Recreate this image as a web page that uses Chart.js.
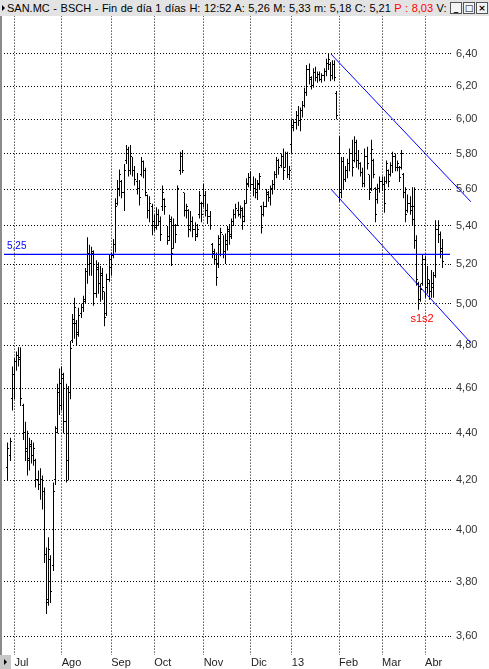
<!DOCTYPE html>
<html>
<head>
<meta charset="utf-8">
<script src="https://cdn.jsdelivr.net/npm/chart.js@4.4.1/dist/chart.umd.min.js"></script>
<style>
  body { margin: 0; background: #fff; }
  #wrap { position: relative; width: 489px; height: 669px; overflow: hidden; background: #fff; }
  #titulo {
    position: absolute; left: 0; top: 0; width: 489px; height: 16px;
    background: #e3e3e3; font: 11px "Liberation Sans", Arial, sans-serif;
    line-height: 16px; white-space: nowrap; overflow: hidden; z-index: 2;
  }
  #titulo .txt { position: absolute; left: 7px; top: 0; color: #000; word-spacing: 0.5px; }
  #titulo .rojo { color: #ff0000; }
  #titulo .flecha { position: absolute; left: 2px; top: 5px; width: 0; height: 0;
    border-top: 3px solid transparent; border-bottom: 3px solid transparent; border-left: 3px solid #000; }
  #botones { position: absolute; right: 1px; top: 2px; height: 13px; background: #e3e3e3; padding-left: 2px; }
  #botones span { display: inline-block; width: 10px; height: 10px; border: 1px solid #555; margin-left: 1px;
    background: #f4f4f4; font: bold 9px "DejaVu Sans", sans-serif; line-height: 10px; text-align: center; vertical-align: top; }
  #marco { position: absolute; left: 0; top: 16px; width: 2px; height: 653px; background: #8a8a8a; z-index: 2; }
  #esquina { position: absolute; left: 0; top: 655px; width: 11px; height: 14px; background: #c8c8c8; z-index: 2; }
  #esquina i { position: absolute; left: 4px; top: 4px; width: 0; height: 0;
    border-top: 3px solid transparent; border-bottom: 3px solid transparent; border-left: 3px solid #000; }
  canvas { position: absolute; left: 0; top: 0; }
</style>
</head>
<body>
<div id="wrap">
  <div id="titulo">
    <div class="flecha"></div>
    <span class="txt">SAN.MC - BSCH - Fin de día 1 días H: 12:52 A: 5,26 M: 5,33 m: 5,18 C: 5,21 <span class="rojo">P : 8,03</span> V: 2</span>
    <div id="botones"><span>_</span><span>□</span><span>×</span></div>
  </div>
  <div id="marco"></div>
  <div id="esquina"><i></i></div>
  <canvas id="grafico" width="489" height="669"></canvas>
</div>
<script>
// Cotizaciones diarias SAN.MC (fin jun 2012 - abr 2013)
const apertura = [
  4.25, 4.30, 4.55, 4.66, 4.72, 4.75, 4.74, 4.52, 4.40, 4.33, 4.29, 4.34, 4.30, 4.28, 4.20, 4.18, 4.20, 4.15, 3.90, 3.73, 3.88, 3.86, 4.20, 4.42, 4.58,
  4.52, 4.64, 4.45, 4.28, 4.58, 4.82, 4.90, 4.90, 4.86, 4.95, 4.98, 5.02, 5.16, 5.25, 5.20, 5.25, 5.05, 5.17, 5.10, 5.14, 5.06, 4.95, 5.12,
  5.18, 5.24, 5.30, 5.52, 5.60, 5.64, 5.58, 5.76, 5.82, 5.70, 5.78, 5.70, 5.64, 5.60, 5.68, 5.75, 5.70, 5.56, 5.48, 5.50,
  5.42, 5.40, 5.46, 5.42, 5.50, 5.54, 5.40, 5.34, 5.42, 5.28, 5.40, 5.40, 5.70, 5.78, 5.58, 5.48, 5.48, 5.40, 5.42, 5.38, 5.35, 5.46, 5.52,
  5.52, 5.56, 5.48, 5.45, 5.30, 5.26, 5.22, 5.20, 5.30, 5.35, 5.26, 5.30, 5.37, 5.35, 5.42, 5.46, 5.48, 5.46, 5.48, 5.45, 5.52, 5.62,
  5.66, 5.62, 5.60, 5.58, 5.62, 5.50, 5.46, 5.50, 5.57, 5.55, 5.60, 5.62, 5.68, 5.76, 5.73, 5.78, 5.72, 5.80, 5.68,
  5.85, 5.96, 5.98, 6.02, 5.99, 6.05, 6.08, 6.16, 6.30, 6.24, 6.20, 6.28, 6.25, 6.27, 6.24, 6.26, 6.29, 6.34, 6.33, 6.26, 6.33, 6.15,
  5.80, 5.58, 5.75, 5.65, 5.70, 5.74, 5.80, 5.76, 5.86, 5.76, 5.74, 5.69, 5.63, 5.78, 5.68, 5.60, 5.76, 5.60, 5.54, 5.60,
  5.64, 5.62, 5.64, 5.70, 5.68, 5.73, 5.78, 5.72, 5.72, 5.72, 5.68, 5.58, 5.48, 5.52, 5.50, 5.50, 5.32, 5.10, 5.02, 5.10,
  5.22, 5.08, 5.10, 5.06, 5.08, 5.14, 5.38, 5.35, 5.26
];
const maximo = [
  4.36, 4.38, 4.70, 4.74, 4.77, 4.79, 4.79, 4.53, 4.45, 4.41, 4.38, 4.37, 4.36, 4.29, 4.24, 4.25, 4.22, 4.17, 3.93, 3.97, 3.90, 4.19, 4.43, 4.62, 4.69,
  4.70, 4.67, 4.62, 4.61, 4.82, 4.95, 5.03, 4.92, 4.98, 5.00, 5.04, 5.18, 5.34, 5.30, 5.29, 5.27, 5.22, 5.21, 5.19, 5.18, 5.06, 5.15, 5.25,
  5.26, 5.33, 5.55, 5.65, 5.71, 5.65, 5.74, 5.85, 5.84, 5.85, 5.78, 5.73, 5.69, 5.65, 5.78, 5.76, 5.72, 5.57, 5.56, 5.52,
  5.46, 5.50, 5.49, 5.45, 5.62, 5.55, 5.40, 5.46, 5.45, 5.44, 5.41, 5.62, 5.81, 5.82, 5.58, 5.52, 5.49, 5.48, 5.45, 5.42, 5.41, 5.59, 5.53,
  5.63, 5.59, 5.52, 5.48, 5.31, 5.28, 5.26, 5.35, 5.39, 5.35, 5.36, 5.40, 5.41, 5.44, 5.49, 5.52, 5.53, 5.51, 5.50, 5.54, 5.66, 5.69,
  5.70, 5.67, 5.66, 5.65, 5.69, 5.51, 5.53, 5.60, 5.59, 5.62, 5.65, 5.70, 5.78, 5.77, 5.80, 5.83, 5.81, 5.81, 5.73,
  6.00, 6.00, 6.05, 6.08, 6.07, 6.11, 6.19, 6.33, 6.34, 6.26, 6.31, 6.32, 6.29, 6.29, 6.28, 6.31, 6.37, 6.40, 6.35, 6.36, 6.36, 6.17,
  5.90, 5.78, 5.78, 5.73, 5.77, 5.83, 5.88, 5.90, 5.88, 5.82, 5.75, 5.72, 5.83, 5.84, 5.68, 5.88, 5.77, 5.61, 5.63, 5.67,
  5.67, 5.67, 5.76, 5.71, 5.75, 5.81, 5.80, 5.76, 5.73, 5.82, 5.69, 5.61, 5.57, 5.56, 5.61, 5.61, 5.35, 5.11, 5.10, 5.25,
  5.24, 5.19, 5.12, 5.17, 5.16, 5.43, 5.43, 5.37, 5.33
];
const minimo = [
  4.20, 4.28, 4.50, 4.55, 4.68, 4.70, 4.52, 4.37, 4.28, 4.22, 4.24, 4.27, 4.26, 4.17, 4.16, 4.12, 4.08, 3.87, 3.68, 3.71, 3.72, 3.84, 4.18, 4.40, 4.48,
  4.50, 4.40, 4.19, 4.20, 4.55, 4.81, 4.83, 4.80, 4.84, 4.93, 4.96, 5.00, 5.10, 5.14, 5.14, 4.99, 5.03, 5.05, 5.01, 5.02, 4.89, 4.94, 5.11,
  5.14, 5.23, 5.26, 5.51, 5.56, 5.55, 5.48, 5.74, 5.67, 5.68, 5.67, 5.62, 5.57, 5.51, 5.67, 5.66, 5.56, 5.44, 5.42, 5.35,
  5.37, 5.38, 5.40, 5.32, 5.48, 5.46, 5.30, 5.32, 5.19, 5.28, 5.31, 5.40, 5.68, 5.69, 5.45, 5.44, 5.34, 5.37, 5.34, 5.32, 5.34, 5.44, 5.42,
  5.50, 5.45, 5.41, 5.38, 5.23, 5.20, 5.09, 5.18, 5.24, 5.23, 5.20, 5.27, 5.30, 5.33, 5.40, 5.44, 5.45, 5.44, 5.38, 5.42, 5.52, 5.61,
  5.59, 5.56, 5.55, 5.54, 5.60, 5.36, 5.45, 5.50, 5.53, 5.51, 5.57, 5.60, 5.66, 5.68, 5.72, 5.65, 5.72, 5.66, 5.65,
  5.80, 5.93, 5.94, 5.96, 5.93, 6.01, 6.07, 6.14, 6.21, 6.18, 6.19, 6.23, 6.22, 6.23, 6.22, 6.23, 6.26, 6.30, 6.23, 6.24, 6.23, 6.00,
  5.53, 5.55, 5.60, 5.64, 5.66, 5.70, 5.67, 5.75, 5.72, 5.71, 5.67, 5.61, 5.61, 5.71, 5.54, 5.59, 5.66, 5.42, 5.52, 5.58,
  5.59, 5.47, 5.63, 5.61, 5.67, 5.69, 5.70, 5.70, 5.64, 5.71, 5.55, 5.42, 5.47, 5.46, 5.40, 5.28, 5.09, 4.97, 5.01, 5.09,
  5.03, 5.05, 5.02, 5.03, 5.03, 5.13, 5.31, 5.23, 5.18
];
const cierre = [
  4.33, 4.36, 4.66, 4.72, 4.75, 4.73, 4.55, 4.40, 4.32, 4.28, 4.35, 4.30, 4.33, 4.20, 4.18, 4.20, 4.15, 3.90, 3.72, 3.92, 3.76, 4.15, 4.40, 4.58, 4.62,
  4.66, 4.45, 4.28, 4.58, 4.78, 4.92, 4.98, 4.85, 4.94, 4.98, 5.01, 5.16, 5.25, 5.20, 5.26, 5.05, 5.18, 5.10, 5.15, 5.08, 4.93, 5.12, 5.22,
  5.24, 5.30, 5.50, 5.60, 5.68, 5.58, 5.70, 5.82, 5.70, 5.80, 5.70, 5.65, 5.60, 5.55, 5.75, 5.70, 5.58, 5.48, 5.52, 5.40,
  5.39, 5.46, 5.42, 5.35, 5.58, 5.50, 5.32, 5.43, 5.25, 5.40, 5.35, 5.60, 5.78, 5.70, 5.48, 5.50, 5.38, 5.42, 5.38, 5.34, 5.38, 5.56, 5.46,
  5.56, 5.48, 5.45, 5.40, 5.25, 5.22, 5.13, 5.33, 5.36, 5.26, 5.32, 5.38, 5.34, 5.42, 5.46, 5.49, 5.46, 5.49, 5.42, 5.52, 5.63, 5.66,
  5.62, 5.60, 5.58, 5.63, 5.67, 5.39, 5.50, 5.58, 5.55, 5.60, 5.62, 5.68, 5.76, 5.72, 5.78, 5.70, 5.80, 5.68, 5.70,
  5.95, 5.98, 6.02, 5.99, 6.05, 6.08, 6.16, 6.30, 6.25, 6.20, 6.28, 6.25, 6.27, 6.24, 6.26, 6.29, 6.34, 6.36, 6.26, 6.33, 6.25, 6.02,
  5.58, 5.75, 5.65, 5.70, 5.74, 5.80, 5.72, 5.86, 5.76, 5.74, 5.69, 5.63, 5.78, 5.74, 5.58, 5.82, 5.68, 5.46, 5.60, 5.64,
  5.62, 5.52, 5.74, 5.64, 5.73, 5.78, 5.72, 5.74, 5.66, 5.80, 5.58, 5.46, 5.52, 5.48, 5.43, 5.32, 5.12, 5.00, 5.07, 5.22,
  5.08, 5.12, 5.06, 5.10, 5.14, 5.38, 5.35, 5.28, 5.21
];

// Primera sesion de cada mes (indice de barra) y su etiqueta
const inicioMes = [3, 25, 48, 68, 91, 113, 132, 154, 174, 194];
const nombresMes = ['Jul', 'Ago', 'Sep', 'Oct', 'Nov', 'Dic', '13', 'Feb', 'Mar', 'Abr'];

// Etiquetas del eje de precios (6,60 queda bajo la barra de titulo)
const ticksPrecio = [3.60, 3.80, 4.00, 4.20, 4.40, 4.60, 4.80, 5.00, 5.20, 5.40, 5.60, 5.80, 6.00, 6.20, 6.40];

// Linea horizontal y canal bajista (indice, precio)
const nivelHorizontal = 5.25;
const canalSuperior = [{ x: 150.2, y: 6.40 }, { x: 215.3, y: 5.53 }];
const canalInferior = [{ x: 150.2, y: 5.60 }, { x: 215.3, y: 4.81 }];
const marcaS1S2 = { x: 192.6, y: 4.925, texto: 's1s2' };

const xMin = -1.86;
const xMax = 205.58;

const barras = apertura.map(function(o, i) {
    return { x: i, y: [minimo[i], maximo[i]] };
});

// Ajusta cada barra al pixel entero para que la linea salga nitida
// y pinta las marcas de apertura (izq) y cierre (der)
const pluginOHLC = {
    id: 'ohlc',
    afterDatasetsUpdate: function(chart) {
        chart.getDatasetMeta(0).data.forEach(function(el) {
            el.x = Math.floor(el.x) + 0.5;
        });
    },
    afterDatasetsDraw: function(chart) {
        const ctx = chart.ctx;
        const yS = chart.scales.y;
        const meta = chart.getDatasetMeta(0);
        ctx.save();
        ctx.fillStyle = '#000';
        meta.data.forEach(function(el, i) {
            const px = Math.floor(el.x);
            ctx.fillRect(px - 1, Math.round(yS.getPixelForValue(apertura[i])) - 1, 1, 1);
            ctx.fillRect(px + 1, Math.round(yS.getPixelForValue(cierre[i])) - 1, 1, 1);
        });
        ctx.restore();
    }
};

// Textos sobre el grafico
const pluginTextos = {
    id: 'textos',
    afterDraw: function(chart) {
        const ctx = chart.ctx;
        const xS = chart.scales.x;
        const yS = chart.scales.y;
        ctx.save();
        ctx.font = '10px "Liberation Sans", Arial, sans-serif';
        ctx.textBaseline = 'middle';
        ctx.fillStyle = '#0000ff';
        ctx.textAlign = 'left';
        ctx.fillText(nivelHorizontal.toFixed(2).replace('.', ','), 7, yS.getPixelForValue(nivelHorizontal) - 8);
        ctx.fillStyle = '#ff0000';
        ctx.font = '11px "Liberation Sans", Arial, sans-serif';
        ctx.textAlign = 'center';
        ctx.fillText(marcaS1S2.texto, xS.getPixelForValue(marcaS1S2.x), yS.getPixelForValue(marcaS1S2.y));
        ctx.restore();
    }
};

new Chart(document.getElementById('grafico'), {
    type: 'bar',
    data: {
        datasets: [{
            data: barras,
            backgroundColor: '#000',
            barThickness: 1,
            inflateAmount: 0,
            grouped: false,
            order: 3
        }, {
            type: 'line',
            data: [{ x: xMin, y: nivelHorizontal }, { x: xMax, y: nivelHorizontal }],
            borderColor: '#0000ff',
            borderWidth: 1.3,
            pointRadius: 0,
            order: 1
        }, {
            type: 'line',
            data: canalSuperior,
            borderColor: '#0000ff',
            borderWidth: 1,
            pointRadius: 0,
            clip: false,
            order: 1
        }, {
            type: 'line',
            data: canalInferior,
            borderColor: '#0000ff',
            borderWidth: 1,
            pointRadius: 0,
            clip: false,
            order: 1
        }]
    },
    options: {
        responsive: false,
        animation: false,
        events: [],
        layout: { padding: { left: 4, top: 0, right: 0, bottom: 0 } },
        plugins: {
            legend: { display: false },
            tooltip: { enabled: false }
        },
        scales: {
            x: {
                type: 'linear',
                offset: false,
                min: xMin,
                max: xMax,
                afterBuildTicks: function(scale) {
                    scale.ticks = inicioMes.map(function(v) { return { value: v }; });
                },
                afterFit: function(scale) { scale.height = 14; },
                ticks: {
                    autoSkip: false,
                    maxRotation: 0,
                    align: 'start',
                    padding: 1,
                    color: '#222',
                    font: { family: '"Liberation Sans", Arial, sans-serif', size: 11 },
                    callback: function(value, index) { return nombresMes[index]; }
                },
                grid: { color: '#000', lineWidth: 1, drawTicks: false, offset: false },
                border: { display: false, dash: [1, 2] }
            },
            y: {
                type: 'logarithmic',
                position: 'right',
                min: 3.5337,
                max: 6.687,
                afterBuildTicks: function(scale) {
                    scale.ticks = ticksPrecio.map(function(v) { return { value: v }; });
                },
                afterFit: function(scale) { scale.width = 39; },
                ticks: {
                    autoSkip: false,
                    padding: 3,
                    color: '#333',
                    font: { family: '"Liberation Sans", Arial, sans-serif', size: 11 },
                    callback: function(value) { return value.toFixed(2).replace('.', ','); }
                },
                grid: { color: '#000', lineWidth: 1, tickLength: 3, tickBorderDash: [1, 2] },
                border: { display: false, dash: [1, 2] }
            }
        }
    },
    plugins: [pluginOHLC, pluginTextos]
});
</script>
</body>
</html>
